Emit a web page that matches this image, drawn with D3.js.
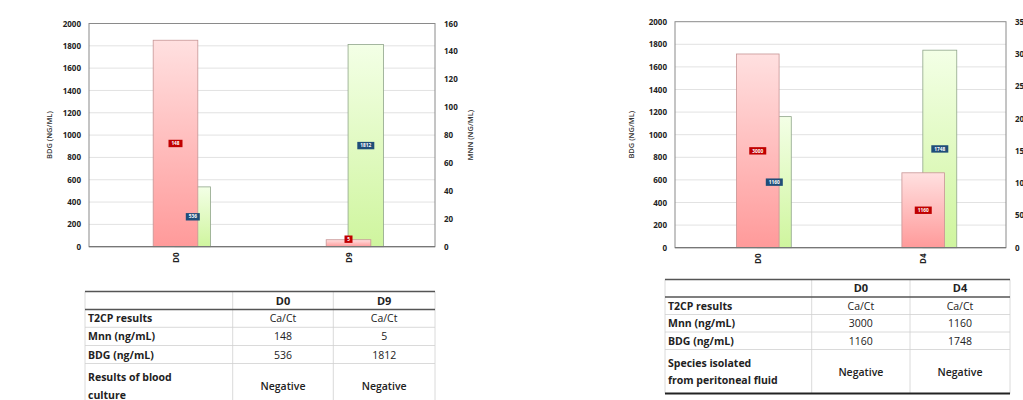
<!DOCTYPE html>
<html>
<head>
<meta charset="utf-8">
<script src="https://cdn.jsdelivr.net/npm/d3@7"></script>
<style>
  body { margin: 0; background: #fff; }
  svg text { font-family: "Open Sans", "Liberation Sans", sans-serif; }
</style>
</head>
<body>
<svg id="fig" width="1023" height="400"></svg>
<script>
// case 1 (left)
const daysA = ['D0', 'D9'];
const mnnA = [148, 5];
const bdgA = [536, 1812];
const rowsA = [
  ['T2CP results', 'Ca/Ct', 'Ca/Ct'],
  ['Mnn (ng/mL)', '148', '5'],
  ['BDG (ng/mL)', '536', '1812'],
  ['Results of blood\nculture', 'Negative', 'Negative']
];
// case 2 (right)
const daysB = ['D0', 'D4'];
const mnnB = [3000, 1160];
const bdgB = [1160, 1748];
const rowsB = [
  ['T2CP results', 'Ca/Ct', 'Ca/Ct'],
  ['Mnn (ng/mL)', '3000', '1160'],
  ['BDG (ng/mL)', '1160', '1748'],
  ['Species isolated\nfrom peritoneal fluid', 'Negative', 'Negative']
];
const bdgTicks = d3.range(0, 2001, 200);
const mnnTicksA = d3.range(0, 161, 20);
const mnnTicksB = d3.range(0, 3501, 500);

const svg = d3.select('#fig');
const defs = svg.append('defs');
let g1 = defs.append('linearGradient').attr('id', 'redGrad').attr('x1', 0).attr('y1', 0).attr('x2', 0).attr('y2', 1);
g1.append('stop').attr('offset', '0%').attr('stop-color', '#ffe0e0');
g1.append('stop').attr('offset', '100%').attr('stop-color', '#ff9a9a');
let g2 = defs.append('linearGradient').attr('id', 'greenGrad').attr('x1', 0).attr('y1', 0).attr('x2', 0).attr('y2', 1);
g2.append('stop').attr('offset', '0%').attr('stop-color', '#f3ffe6');
g2.append('stop').attr('offset', '100%').attr('stop-color', '#cff59e');

function drawChart(cfg) {
  const { x0, x1, y0, y1 } = cfg.box;
  const chart = svg.append('g');

  const xBand = d3.scaleBand().domain(cfg.days).range([x0, x1]);
  const yLeft = d3.scaleLinear().domain([0, 2000]).range([y1, y0]);
  const yRight = d3.scaleLinear().domain([0, d3.max(cfg.rightTicks)]).range([y1, y0]);
  const bw = xBand.bandwidth();

  // gridlines
  chart.selectAll('.grid')
    .data(bdgTicks.filter(t => t > 0 && t < 2000))
    .join('line')
    .attr('x1', x0).attr('x2', x1)
    .attr('y1', d => yLeft(d)).attr('y2', d => yLeft(d))
    .attr('stroke', '#e2e2e2').attr('stroke-width', 1);

  // frame
  chart.append('rect')
    .attr('x', x0).attr('y', y0).attr('width', x1 - x0).attr('height', y1 - y0)
    .attr('fill', 'none').attr('stroke', '#8a8a8a').attr('stroke-width', 1);

  // BDG bars (left axis), behind
  const gw = bw * 0.205, gOff = bw * 0.1;
  chart.selectAll('.bdg')
    .data(cfg.bdg)
    .join('rect')
    .attr('x', (d, i) => xBand(cfg.days[i]) + bw / 2 + gOff - gw / 2)
    .attr('y', d => yLeft(d))
    .attr('width', gw)
    .attr('height', d => y1 - yLeft(d))
    .attr('fill', 'url(#greenGrad)')
    .attr('stroke', '#8fa58a').attr('stroke-width', 0.8);

  // Mnn bars (right axis), in front
  const rw = bw * 0.258;
  chart.selectAll('.mnn')
    .data(cfg.mnn)
    .join('rect')
    .attr('x', (d, i) => xBand(cfg.days[i]) + bw / 2 - rw / 2)
    .attr('y', d => yRight(d))
    .attr('width', rw)
    .attr('height', d => y1 - yRight(d))
    .attr('fill', 'url(#redGrad)')
    .attr('stroke', '#c79595').attr('stroke-width', 0.8);

  // value tags
  function tag(cx, cy, txt, fill) {
    const w = txt.length * 3 + 5;
    chart.append('rect')
      .attr('x', cx - w / 2).attr('y', cy - 3.7).attr('width', w).attr('height', 7.4)
      .attr('fill', fill);
    chart.append('text')
      .attr('x', cx).attr('y', cy + 1.7)
      .attr('text-anchor', 'middle')
      .attr('font-size', 4.8).attr('font-weight', 700)
      .attr('fill', '#fff')
      .text(txt);
  }
  cfg.bdg.forEach((d, i) => {
    tag(xBand(cfg.days[i]) + bw / 2 + gOff, (yLeft(d) + y1) / 2, String(d), '#1f4e79');
  });
  cfg.mnn.forEach((d, i) => {
    const cy = Math.min((yRight(d) + y1) / 2, y1 - 7.5);
    tag(xBand(cfg.days[i]) + bw / 2, cy, String(d), '#c00000');
  });

  // left axis
  const axL = chart.append('g')
    .attr('transform', `translate(${x0},0)`)
    .call(d3.axisLeft(yLeft).tickValues(bdgTicks).tickFormat(d3.format('d')).tickSize(0).tickPadding(8));
  axL.select('.domain').remove();
  axL.selectAll('text').attr('font-size', 8).attr('font-weight', 700).attr('fill', '#222')
    .style('font-family', '"Open Sans", sans-serif');

  // right axis
  const axR = chart.append('g')
    .attr('transform', `translate(${x1},0)`)
    .call(d3.axisRight(yRight).tickValues(cfg.rightTicks).tickFormat(d3.format('d')).tickSize(0).tickPadding(9));
  axR.select('.domain').remove();
  axR.selectAll('text').attr('font-size', 8).attr('font-weight', 700).attr('fill', '#222')
    .style('font-family', '"Open Sans", sans-serif');

  // bottom axis line
  chart.append('line')
    .attr('x1', x0).attr('x2', x1).attr('y1', y1).attr('y2', y1)
    .attr('stroke', '#777').attr('stroke-width', 1.2);

  // category labels (rotated)
  chart.selectAll('.cat')
    .data(cfg.days)
    .join('text')
    .attr('transform', d => `translate(${xBand(d) + bw / 2 + 3},${y1 + 11}) rotate(-90)`)
    .attr('text-anchor', 'middle')
    .attr('font-size', 8).attr('font-weight', 700).attr('fill', '#222')
    .text(d => d);

  // axis titles
  chart.append('text')
    .attr('transform', `translate(${cfg.leftTitleX},${(y0 + y1) / 2}) rotate(-90)`)
    .attr('text-anchor', 'middle')
    .attr('font-size', 7.5).attr('font-weight', 600).attr('fill', '#333')
    .text('BDG (NG/ML)');
  chart.append('text')
    .attr('transform', `translate(${cfg.rightTitleX},${(y0 + y1) / 2}) rotate(-90)`)
    .attr('text-anchor', 'middle')
    .attr('font-size', 7.5).attr('font-weight', 600).attr('fill', '#333')
    .text('MNN (NG/ML)');
}

drawChart({
  days: daysA, mnn: mnnA, bdg: bdgA, rightTicks: mnnTicksA,
  box: { x0: 89, x1: 435, y0: 23.5, y1: 246.7 },
  leftTitleX: 52, rightTitleX: 473
});
drawChart({
  days: daysB, mnn: mnnB, bdg: bdgB, rightTicks: mnnTicksB,
  box: { x0: 675, x1: 1006, y0: 21.7, y1: 247.7 },
  leftTitleX: 634, rightTitleX: 1045
});

function drawTable(cfg) {
  const t = svg.append('g');
  const [c0, c1, c2, c3] = cfg.cols;
  const rb = cfg.rowBounds;
  // vertical lines
  [c0, c1, c2, c3].forEach(x => {
    t.append('line').attr('x1', x).attr('x2', x).attr('y1', rb[0]).attr('y2', cfg.bottom)
      .attr('stroke', '#d0d0d0').attr('stroke-width', 0.8);
  });
  // horizontal lines
  rb.forEach((y, i) => {
    const heavy = i < 2;
    t.append('line').attr('x1', c0).attr('x2', c3).attr('y1', y).attr('y2', y)
      .attr('stroke', heavy ? '#555' : '#d0d0d0').attr('stroke-width', heavy ? 1.6 : 0.8);
  });
  if (cfg.bottomRule) {
    t.append('line').attr('x1', c0).attr('x2', c3).attr('y1', cfg.bottom).attr('y2', cfg.bottom)
      .attr('stroke', '#222').attr('stroke-width', 2);
  }
  // header
  cfg.days.forEach((d, i) => {
    const cx = i === 0 ? (c1 + c2) / 2 : (c2 + c3) / 2;
    t.append('text').attr('x', cx).attr('y', (rb[0] + rb[1]) / 2 + 4)
      .attr('text-anchor', 'middle').attr('font-size', 11).attr('font-weight', 700).attr('fill', '#222')
      .text(d);
  });
  // body rows
  cfg.rows.forEach((row, r) => {
    const top = rb[r + 1];
    const bot = r + 2 < rb.length ? rb[r + 2] : cfg.bottom;
    const cy = (top + bot) / 2;
    const lines = row[0].split('\n');
    lines.forEach((ln, k) => {
      t.append('text').attr('x', c0 + 3).attr('y', cy + 4 + (k - (lines.length - 1) / 2) * 17.5)
        .attr('font-size', 10.5).attr('font-weight', 700).attr('fill', '#222')
        .text(ln);
    });
    [row[1], row[2]].forEach((v, i) => {
      const cx = i === 0 ? (c1 + c2) / 2 : (c2 + c3) / 2;
      t.append('text').attr('x', cx).attr('y', cy + 4)
        .attr('text-anchor', 'middle').attr('font-size', 10.5)
        .attr('font-weight', r === 3 ? 600 : 400).attr('fill', '#222')
        .text(v);
    });
  });
}

drawTable({
  days: daysA, rows: rowsA,
  cols: [85, 232.7, 333.3, 435],
  rowBounds: [291.5, 309.5, 327.3, 345.5, 363.5],
  bottom: 408, bottomRule: false
});
drawTable({
  days: daysB, rows: rowsB,
  cols: [665, 811.7, 910, 1010],
  rowBounds: [279.5, 297, 314.5, 332, 349.5],
  bottom: 393.5, bottomRule: true
});
</script>
</body>
</html>
